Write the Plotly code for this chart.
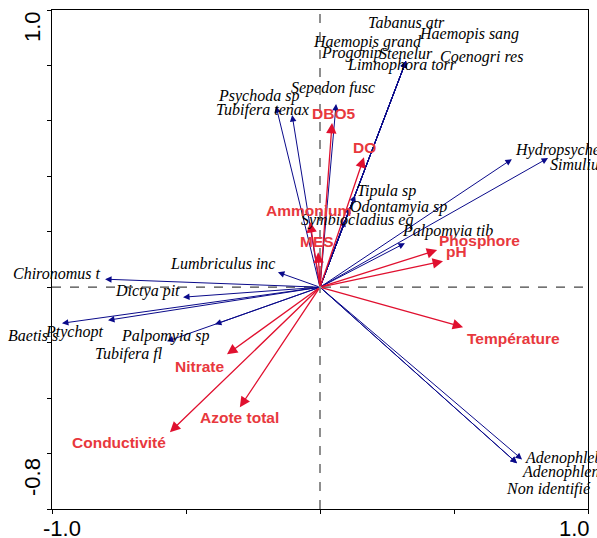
import plotly.graph_objects as go

# Species scores (arrow tips)
species_names = [
    "Tabanus atr", "Haemopis sang", "Haemopis grand", "Progonip", "Stenelur",
    "Coenogri res", "Limnophora torr", "Sepedon fusc", "Psychoda sp",
    "Tubifera tenax", "Tipula sp", "Odontamyia sp", "Symbiocladius eq",
    "Palpomyia tib", "Hydropsyche", "Simulium", "Lumbriculus inc",
    "Chironomus t", "Dictya pit", "Baetis s", "Ptychopt", "Palpomyia sp",
    "Tubifera fl", "Adenophleb", "Adenophlen", "Non identifié",
]
species_x = [0.321, 0.321, 0.321, 0.321, 0.321, 0.321, 0.321, 0.060, -0.164,
             -0.104, 0.131, 0.112, 0.093, 0.317, 0.716, 0.851, -0.157,
             -0.802, -0.511, -0.963, -0.791, -0.392, -0.571, 0.754, 0.735, 0.735]
species_y = [0.816, 0.816, 0.816, 0.816, 0.816, 0.816, 0.816, 0.661, 0.653,
             0.621, 0.332, 0.289, 0.242, 0.159, 0.462, 0.466, 0.054,
             0.029, -0.036, -0.130, -0.119, -0.134, -0.195, -0.621, -0.635, -0.635]

# Environmental variable scores (arrow tips)
env_names = ["DBO5", "DO", "Ammonium", "MES", "Phosphore", "pH",
             "Température", "Nitrate", "Azote total", "Conductivité"]
env_x = [0.045, 0.164, -0.037, -0.007, 0.437, 0.459, 0.534, -0.347, -0.299, -0.560]
env_y = [0.592, 0.469, 0.235, 0.126, 0.134, 0.094, -0.144, -0.242, -0.433, -0.523]

# Axis tick labels
x_tick_labels = ["-1.0", "1.0"]
y_tick_labels = ["1.0", "-0.8"]

# Label placement relative to the arrow tip: (anchor, dx px, dy px downward)
species_label_place = {
    "Tabanus atr": ("center", 0, -39), "Haemopis sang": ("left", 11, -27),
    "Haemopis grand": ("center", -39, -19), "Progonip": ("center", -55, -8),
    "Stenelur": ("center", 0, -8), "Coenogri res": ("left", 32, -4),
    "Limnophora torr": ("center", -4, 4), "Sepedon fusc": ("center", -3, -16),
    "Psychoda sp": ("center", -18, -10), "Tubifera tenax": ("center", -30, -5),
    "Tipula sp": ("left", 0, -4), "Odontamyia sp": ("left", -2, 0),
    "Symbiocladius eq": ("center", 12, 0), "Palpomyia tib": ("left", -5, -12),
    "Hydropsyche": ("left", 1, -9), "Simulium": ("left", 0, 6),
    "Lumbriculus inc": ("right", -1, -9), "Chironomus t": ("right", -2, -6),
    "Dictya pit": ("right", -1, -6), "Baetis s": ("right", -2, 12),
    "Ptychopt": ("right", -3, 12), "Palpomyia sp": ("right", -3, 12),
    "Tubifera fl": ("right", -2, 13), "Adenophleb": ("left", 1, -1),
    "Adenophlen": ("left", 3, 9), "Non identifié": ("left", -13, 26),
}
env_label_place = {
    "DBO5": ("center", 1, -10), "DO": ("center", 1, -10),
    "Ammonium": ("center", -2, -12), "MES": ("center", -1, -11),
    "Phosphore": ("left", 0, -10), "pH": ("left", 1, -10),
    "Température": ("left", 2, 11), "Nitrate": ("right", -1, 12),
    "Azote total": ("center", 0, 10), "Conductivité": ("right", -2, 10),
}

BLUE = "#0a0a8a"
RED_ARROW = "#e0102f"
RED_TEXT = "#e8383d"
SERIF = "Liberation Serif, Times New Roman, serif"
SANS = "Liberation Sans, Arial, sans-serif"

fig = go.Figure()
fig.add_trace(go.Scatter(x=[0], y=[0], mode="markers", marker=dict(size=1, opacity=0),
                         hoverinfo="skip", showlegend=False))

annotations = []

# Species arrows
for name, sx, sy in zip(species_names, species_x, species_y):
    annotations.append(dict(
        x=sx, y=sy, ax=0, ay=0, xref="x", yref="y", axref="x", ayref="y",
        text="", showarrow=True, arrowhead=2, arrowsize=1.3, arrowwidth=1,
        arrowcolor=BLUE, standoff=0, startstandoff=0))

# Environmental arrows
for name, ex, ey in zip(env_names, env_x, env_y):
    annotations.append(dict(
        x=ex, y=ey, ax=0, ay=0, xref="x", yref="y", axref="x", ayref="y",
        text="", showarrow=True, arrowhead=2, arrowsize=1.6, arrowwidth=1.3,
        arrowcolor=RED_ARROW, standoff=0, startstandoff=0))

# Species labels
for name, sx, sy in zip(species_names, species_x, species_y):
    anchor, dx, dy = species_label_place[name]
    annotations.append(dict(
        x=sx, y=sy, xref="x", yref="y", text="<i>" + name + "</i>", showarrow=False,
        xanchor=anchor, yanchor="middle", xshift=dx, yshift=-dy,
        font=dict(family=SERIF, size=16, color="black")))

# Environmental labels
for name, ex, ey in zip(env_names, env_x, env_y):
    anchor, dx, dy = env_label_place[name]
    annotations.append(dict(
        x=ex, y=ey, xref="x", yref="y", text="<b>" + name + "</b>", showarrow=False,
        xanchor=anchor, yanchor="middle", xshift=dx, yshift=-dy,
        font=dict(family=SANS, size=15.5, color=RED_TEXT)))

# Axis end labels
tick_font = dict(family=SANS, size=22, color="black")
annotations.append(dict(x=-1.0, y=0, xref="x", yref="paper", text=x_tick_labels[0],
                        showarrow=False, xanchor="center", yanchor="top",
                        xshift=10, yshift=-5, font=tick_font))
annotations.append(dict(x=1.0, y=0, xref="x", yref="paper", text=x_tick_labels[1],
                        showarrow=False, xanchor="center", yanchor="top",
                        xshift=-14, yshift=-5, font=tick_font))
annotations.append(dict(x=0, y=1.0, xref="paper", yref="y", text=y_tick_labels[0],
                        showarrow=False, xanchor="center", yanchor="middle",
                        textangle=-90, xshift=-20, yshift=-17, font=tick_font))
annotations.append(dict(x=0, y=-0.8, xref="paper", yref="y", text=y_tick_labels[1],
                        showarrow=False, xanchor="center", yanchor="middle",
                        textangle=-90, xshift=-20, yshift=32, font=tick_font))

shapes = [
    dict(type="line", x0=0, x1=0, y0=-0.8, y1=1.0, xref="x", yref="y",
         line=dict(color="#444444", width=1.2, dash="dash"), layer="below"),
    dict(type="line", x0=-1, x1=1, y0=0, y1=0, xref="x", yref="y",
         line=dict(color="#444444", width=1.2, dash="dash"), layer="below"),
]

fig.update_layout(
    width=597, height=538,
    margin=dict(l=52, r=9, t=10, b=29),
    paper_bgcolor="white", plot_bgcolor="white",
    showlegend=False,
    annotations=annotations, shapes=shapes,
    xaxis=dict(range=[-1.0, 1.0], showgrid=False, zeroline=False,
               showline=True, linecolor="black", linewidth=1, mirror=True,
               ticks="outside", ticklen=4, tickcolor="black",
               tickvals=[-1.0, -0.5, 0.0, 0.5, 1.0], showticklabels=False),
    yaxis=dict(range=[-0.8, 1.0], showgrid=False, zeroline=False,
               showline=True, linecolor="black", linewidth=1, mirror=True,
               ticks="outside", ticklen=4, tickcolor="black",
               tickvals=[-0.8, -0.6, -0.4, -0.2, 0.0, 0.2, 0.4, 0.6, 0.8, 1.0],
               showticklabels=False),
)

fig.write_html("out.html")
